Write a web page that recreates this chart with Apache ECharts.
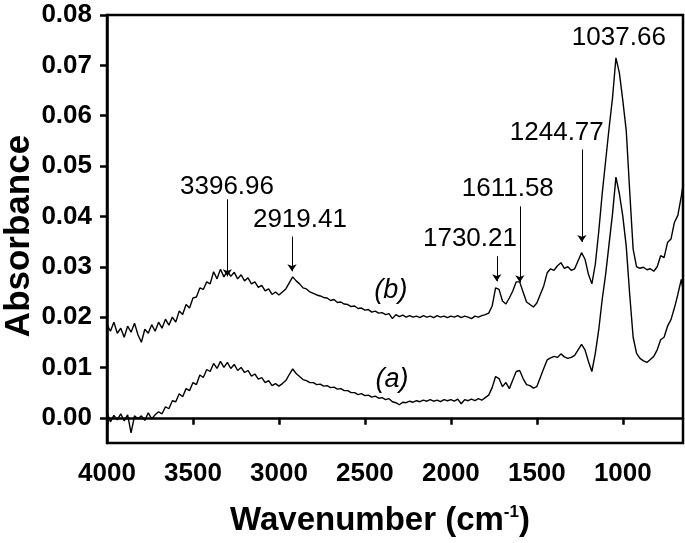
<!DOCTYPE html>
<html>
  <head>
    <meta charset="utf-8" />
    <title>FTIR spectra</title>
    <script src="https://cdn.jsdelivr.net/npm/echarts@6/dist/echarts.min.js"></script>
    <style>
      body { margin: 0; background: #fff; }
    </style>
  </head>
  <body>
    <div id="main" style="width: 685px; height: 543px"></div>
    <script type="text/javascript">
      var chartDom = document.getElementById('main');
      var myChart = echarts.init(chartDom);
      var option;

      // wavenumber (cm-1)
      const wavenumber = [
        4000, 3980, 3960, 3940, 3920, 3900, 3880, 3860, 3840, 3820,
        3800, 3780, 3760, 3740, 3720, 3700, 3680, 3660, 3640, 3620,
        3600, 3580, 3560, 3540, 3520, 3500, 3480, 3460, 3440, 3420,
        3400, 3380, 3360, 3340, 3320, 3300, 3280, 3260, 3240, 3220,
        3200, 3180, 3160, 3140, 3120, 3100, 3080, 3060, 3040, 3020,
        3000, 2980, 2960, 2940, 2920, 2900, 2880, 2860, 2840, 2820,
        2800, 2780, 2760, 2740, 2720, 2700, 2680, 2660, 2640, 2620,
        2600, 2580, 2560, 2540, 2520, 2500, 2480, 2460, 2440, 2420,
        2400, 2380, 2360, 2340, 2320, 2300, 2280, 2260, 2240, 2220,
        2200, 2180, 2160, 2140, 2120, 2100, 2080, 2060, 2040, 2020,
        2000, 1980, 1960, 1940, 1920, 1900, 1880, 1860, 1840, 1820,
        1800, 1780, 1760, 1740, 1720, 1700, 1680, 1660, 1640, 1620,
        1600, 1580, 1560, 1540, 1520, 1500, 1480, 1460, 1440, 1420,
        1400, 1380, 1360, 1340, 1320, 1300, 1280, 1260, 1240, 1220,
        1200, 1180, 1160, 1140, 1120, 1100, 1080, 1060, 1040, 1020,
        1000, 980, 960, 940, 920, 900, 880, 860, 840, 820,
        800, 780, 760, 740, 720, 700, 680, 660, 650
      ];

      // spectrum (b), upper trace
      const absB = [
        0.0185, 0.0172, 0.0190, 0.0168, 0.0178, 0.0160, 0.0182, 0.0170, 0.0188, 0.0165,
        0.0150, 0.0176, 0.0168, 0.0185, 0.0172, 0.0190, 0.0178, 0.0196, 0.0184, 0.0200,
        0.0190, 0.0212, 0.0205, 0.0225, 0.0218, 0.0238, 0.0240, 0.0258, 0.0255, 0.0270,
        0.0266, 0.0290, 0.0276, 0.0295, 0.0280, 0.0292, 0.0281, 0.0289, 0.0276, 0.0284,
        0.0272, 0.0278, 0.0266, 0.0270, 0.0259, 0.0263, 0.0252, 0.0256, 0.0245, 0.0250,
        0.0244, 0.0250, 0.0256, 0.0268, 0.0280, 0.0272, 0.0266, 0.0258, 0.0256, 0.0250,
        0.0247, 0.0244, 0.0242, 0.0239, 0.0238, 0.0233, 0.0235, 0.0229, 0.0230, 0.0226,
        0.0225, 0.0221, 0.0222, 0.0217, 0.0218, 0.0214, 0.0215, 0.0210, 0.0212, 0.0208,
        0.0209, 0.0205, 0.0207, 0.0197, 0.0205, 0.0201, 0.0204, 0.0200, 0.0203, 0.0200,
        0.0202, 0.0199, 0.0203, 0.0200, 0.0202, 0.0199, 0.0203, 0.0200, 0.0202, 0.0199,
        0.0202, 0.0200, 0.0203, 0.0199, 0.0202, 0.0200, 0.0197, 0.0202, 0.0200, 0.0203,
        0.0205, 0.0208, 0.0222, 0.0258, 0.0255, 0.0232, 0.0226, 0.0238, 0.0252, 0.0270,
        0.0270, 0.0250, 0.0230, 0.0225, 0.0220, 0.0228, 0.0245, 0.0262, 0.0288, 0.0296,
        0.0293, 0.0302, 0.0308, 0.0297, 0.0300, 0.0293, 0.0296, 0.0312, 0.0328, 0.0315,
        0.0285, 0.0266, 0.0305, 0.0370, 0.0445, 0.0510, 0.0575, 0.0635, 0.0715, 0.0685,
        0.0630, 0.0570, 0.0450, 0.0335, 0.0300, 0.0297, 0.0299, 0.0294, 0.0296, 0.0291,
        0.0300, 0.0322, 0.0318, 0.0348, 0.0355, 0.0388, 0.0402, 0.0440, 0.0462
      ];

      // spectrum (a), lower trace
      const absA = [
        0.0010, -0.0008, 0.0005, -0.0004, 0.0008, -0.0006, 0.0006, -0.0030, 0.0004, -0.0002,
        0.0004, -0.0005, 0.0010, -0.0002, 0.0006, 0.0012, 0.0008, 0.0022, 0.0018, 0.0034,
        0.0032, 0.0048, 0.0042, 0.0058, 0.0054, 0.0070, 0.0066, 0.0085, 0.0080, 0.0096,
        0.0092, 0.0108, 0.0098, 0.0112, 0.0100, 0.0110, 0.0098, 0.0106, 0.0094, 0.0100,
        0.0090, 0.0094, 0.0083, 0.0087, 0.0077, 0.0080, 0.0070, 0.0074, 0.0064, 0.0068,
        0.0063, 0.0068, 0.0074, 0.0086, 0.0097, 0.0088, 0.0082, 0.0076, 0.0074, 0.0070,
        0.0070, 0.0066, 0.0067, 0.0063, 0.0064, 0.0060, 0.0061, 0.0057, 0.0058, 0.0054,
        0.0054, 0.0050, 0.0050, 0.0046, 0.0048, 0.0044, 0.0045, 0.0041, 0.0043, 0.0039,
        0.0040, 0.0036, 0.0038, 0.0032, 0.0030, 0.0026, 0.0031, 0.0030, 0.0033, 0.0031,
        0.0034, 0.0032, 0.0035, 0.0033, 0.0036, 0.0033, 0.0035, 0.0032, 0.0036, 0.0034,
        0.0036, 0.0033, 0.0037, 0.0028, 0.0036, 0.0034, 0.0037, 0.0034, 0.0038, 0.0035,
        0.0040, 0.0045, 0.0060, 0.0082, 0.0078, 0.0062, 0.0070, 0.0058, 0.0075, 0.0092,
        0.0094, 0.0078, 0.0066, 0.0064, 0.0059, 0.0062, 0.0080, 0.0098, 0.0115, 0.0119,
        0.0122, 0.0120, 0.0127, 0.0121, 0.0118, 0.0120, 0.0124, 0.0135, 0.0146, 0.0135,
        0.0112, 0.0092, 0.0128, 0.0175, 0.0235, 0.0285, 0.0345, 0.0405, 0.0478, 0.0445,
        0.0400, 0.0340, 0.0245, 0.0160, 0.0128, 0.0118, 0.0113, 0.0110, 0.0116, 0.0122,
        0.0135, 0.0155, 0.0160, 0.0182, 0.0195, 0.0218, 0.0245, 0.0275, 0.0255
      ];

      const xTicks = [1000, 1500, 2000, 2500, 3000, 3500, 4000];
      const yTicks = [0, 0.01, 0.02, 0.03, 0.04, 0.05, 0.06, 0.07, 0.08];

      // peak labels: text, where the text sits, arrow top, arrow tip
      const peakText = ['3396.96', '2919.41', '1730.21', '1611.58', '1244.77', '1037.66'];
      const peakTextAt = [[3302, 0.0459], [2878, 0.0394], [1889, 0.0355], [1669, 0.0454], [1384, 0.0566], [1023, 0.0755]];
      const arrowX = [3300, 2924, 1733, 1599, 1238];
      const arrowTop = [0.0434, 0.0360, 0.0321, 0.0420, 0.0533];
      const arrowTip = [0.0281, 0.0291, 0.0271, 0.0269, 0.0349];

      const curveText = ['(b)', '(a)'];
      const curveTextAt = [[2349, 0.0252], [2343, 0.0077]];

      const font = 'Liberation Sans, Arial, sans-serif';

      function pairs(ys) {
        return wavenumber.map(function (x, i) {
          return [x, ys[i]];
        });
      }

      option = {
        backgroundColor: '#fff',
        animation: false,
        grid: {
          left: 107,
          right: 2,
          top: 15,
          bottom: 100,
          outerBoundsMode: 'none',
          show: true,
          borderColor: '#000',
          borderWidth: 2.5
        },
        xAxis: {
          type: 'value',
          inverse: true,
          min: 650,
          max: 4000,
          name: 'Wavenumber (cm{sup|-1})',
          nameLocation: 'middle',
          nameGap: 61,
          nameMoveOverlap: false,
          nameTextStyle: {
            fontFamily: font,
            fontWeight: 'bold',
            fontSize: 33,
            color: '#000',
            padding: [0, 30, 0, 0],
            rich: {
              sup: {
                fontFamily: font,
                fontWeight: 'bold',
                fontSize: 17,
                color: '#000',
                verticalAlign: 'top'
              }
            }
          },
          axisLine: { lineStyle: { color: '#000', width: 2.5 } },
          axisTick: { length: 7, lineStyle: { color: '#000', width: 2.5 }, customValues: xTicks },
          axisLabel: {
            customValues: xTicks,
            margin: 18,
            fontFamily: font,
            fontWeight: 'bold',
            fontSize: 26,
            color: '#000',
            formatter: function (v) {
              return String(v);
            }
          },
          splitLine: { show: false }
        },
        yAxis: {
          type: 'value',
          min: -0.005,
          max: 0.08,
          name: 'Absorbance',
          nameLocation: 'middle',
          nameGap: 70,
          nameMoveOverlap: false,
          nameTextStyle: {
            fontFamily: font,
            fontWeight: 'bold',
            fontSize: 35,
            color: '#000',
            padding: [0, 14, 0, 0]
          },
          axisLine: { lineStyle: { color: '#000', width: 2.5 } },
          axisTick: { length: 7, lineStyle: { color: '#000', width: 2.5 }, customValues: yTicks },
          axisLabel: {
            customValues: yTicks,
            margin: 15,
            fontFamily: font,
            fontWeight: 'bold',
            fontSize: 26,
            color: '#000',
            formatter: function (v) {
              return v.toFixed(2);
            }
          },
          splitLine: { show: false }
        },
        series: [
          {
            name: 'b',
            type: 'line',
            showSymbol: false,
            lineStyle: { color: '#000', width: 1.4 },
            data: pairs(absB),
            markLine: {
              silent: true,
              symbol: ['none', 'arrow'],
              symbolSize: 7,
              lineStyle: { color: '#000', width: 1, type: 'solid' },
              label: { show: false },
              data: arrowX.map(function (x, i) {
                return [{ coord: [x, arrowTop[i]] }, { coord: [x, arrowTip[i]] }];
              })
            },
            markPoint: {
              silent: true,
              symbol: 'circle',
              symbolSize: 0,
              label: {
                show: true,
                position: 'inside',
                fontFamily: font,
                fontSize: 26,
                color: '#000'
              },
              data: peakText.map(function (t, i) {
                return { coord: peakTextAt[i], label: { formatter: t } };
              }).concat(curveText.map(function (t, i) {
                return {
                  coord: curveTextAt[i],
                  label: { formatter: t, fontStyle: 'italic', fontSize: 27 }
                };
              }))
            }
          },
          {
            name: 'a',
            type: 'line',
            showSymbol: false,
            lineStyle: { color: '#000', width: 1.4 },
            data: pairs(absA)
          }
        ]
      };

      option && myChart.setOption(option);
    </script>
  </body>
</html>
